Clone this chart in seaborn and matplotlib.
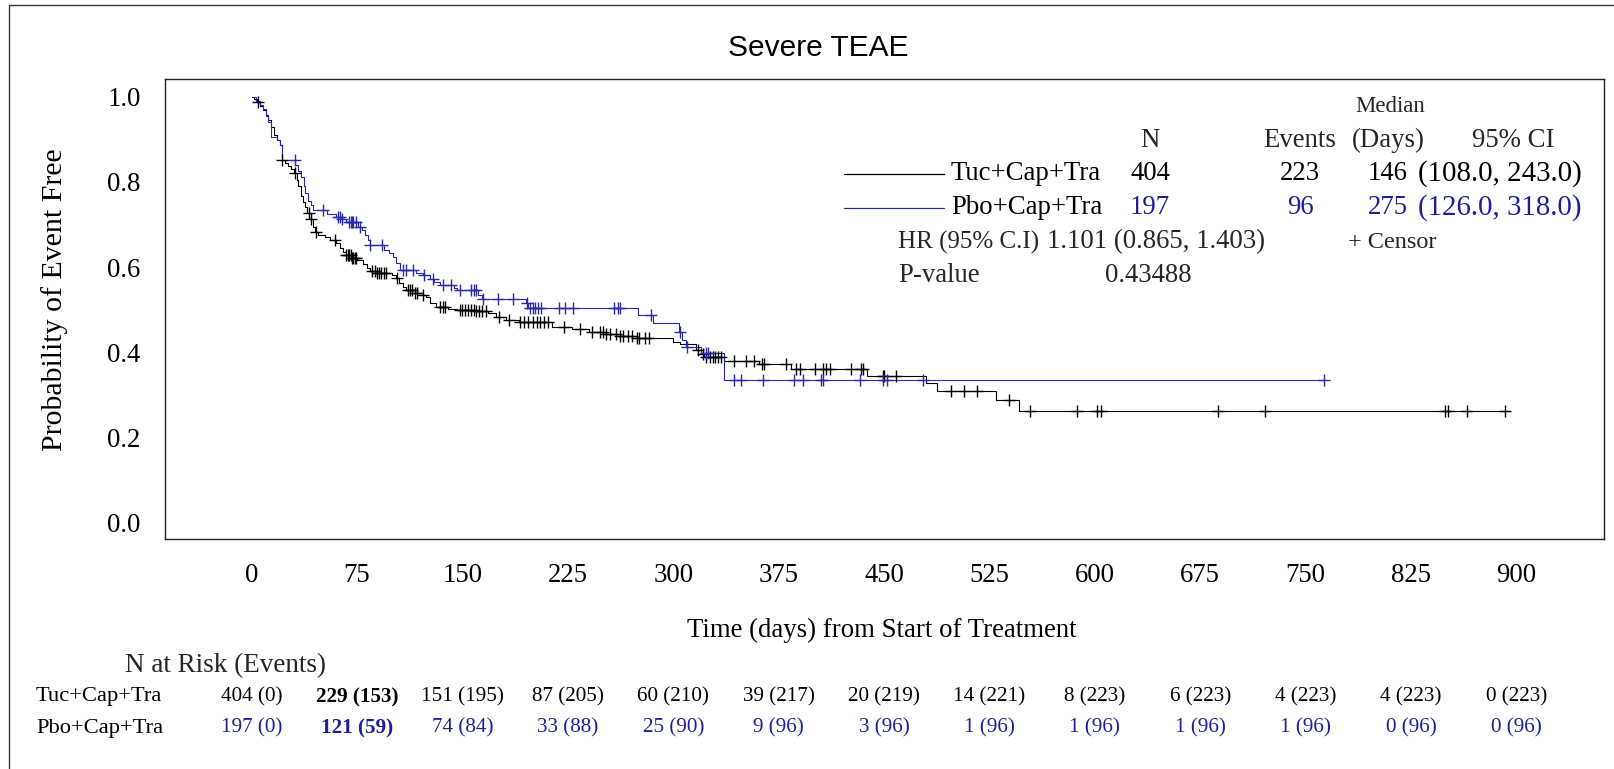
import numpy as np
import matplotlib
matplotlib.use("Agg")
import matplotlib.pyplot as plt
from matplotlib.lines import Line2D
from matplotlib.transforms import blended_transform_factory
import seaborn as sns
import pandas as pd

# ---------------- data ----------------
arm_names = ["Tuc+Cap+Tra", "Pbo+Cap+Tra"]

tuc_times = [0, 2, 4, 6, 8, 10, 12, 14, 16, 18, 20, 22, 24, 26, 28, 30, 32, 33, 35, 36.5, 38, 39.5,
             42, 43.5, 45, 47, 52, 56, 60, 63, 65, 67, 71, 75, 79, 82, 84, 88, 100, 103, 105, 108,
             110, 116, 122, 124, 127, 131, 140, 146, 160, 168, 174, 181, 190, 214, 228, 240, 252,
             262, 274, 300, 305, 316, 320, 322, 336, 361, 384, 438, 480, 488, 530, 546]
tuc_surv = [1.0, 0.995, 0.988, 0.978, 0.968, 0.958, 0.945, 0.93, 0.91, 0.898, 0.887, 0.851, 0.845,
            0.838, 0.83, 0.82, 0.805, 0.79, 0.768, 0.752, 0.74, 0.728, 0.712, 0.695, 0.683, 0.676,
            0.67, 0.664, 0.656, 0.645, 0.636, 0.628, 0.622, 0.616, 0.607, 0.598, 0.592, 0.587,
            0.582, 0.574, 0.562, 0.553, 0.546, 0.54, 0.535, 0.53, 0.515, 0.507, 0.502, 0.5, 0.497,
            0.492, 0.484, 0.477, 0.472, 0.46, 0.455, 0.448, 0.443, 0.438, 0.433, 0.425, 0.419,
            0.405, 0.396, 0.39, 0.38, 0.373, 0.361, 0.345, 0.327, 0.31, 0.288, 0.263]
tuc_end = 892
tuc_censor = [4.7, 22, 30.8, 41, 42.6, 45.5, 59.2, 67.5, 68.5, 69.5, 70.5, 71.5, 72.5, 73.5, 74.6,
              86, 87.5, 89, 90.5, 92, 94, 96, 103.5, 111, 112.5, 114, 116, 118, 122, 134, 136,
              137.5, 148, 150, 152, 154, 156, 158, 160, 162, 164, 167, 176, 183, 191, 194, 197,
              200, 203, 205, 208, 211, 222, 234, 242, 247.6, 250, 252, 255, 259.5, 262, 264, 268,
              271, 274, 276, 280, 283, 317.5, 321, 323, 326, 328, 330, 332, 334, 343.4, 351.7,
              357.6, 363, 364.5, 380, 387.6, 390, 400.6, 406.5, 408.9, 411.3, 426.7, 433.8, 435,
              449, 450.3, 458.5, 497.7, 507, 516.5, 539, 554, 587, 601.6, 604.5, 688, 721, 849,
              851, 864.7, 892]

pbo_times = [0, 3, 6, 8, 10, 12, 14, 18, 20, 22, 31, 33, 35.5, 37, 38, 40, 42, 44, 54, 60, 64, 67,
             76, 78.5, 81, 83, 84, 94, 98, 100.7, 103, 105.4, 117, 122, 127, 130, 133.8, 144, 146,
             161, 164, 195.5, 197, 274.8, 285.5, 304, 306.5, 309, 320, 336.5]
pbo_surv = [1.0, 0.99, 0.98, 0.97, 0.955, 0.94, 0.906, 0.898, 0.887, 0.851, 0.84, 0.826, 0.812,
            0.79, 0.773, 0.755, 0.745, 0.734, 0.725, 0.718, 0.712, 0.705, 0.695, 0.687, 0.675,
            0.664, 0.652, 0.64, 0.632, 0.624, 0.61, 0.593, 0.587, 0.581, 0.572, 0.565, 0.558,
            0.552, 0.546, 0.535, 0.525, 0.515, 0.505, 0.488, 0.468, 0.448, 0.429, 0.412, 0.398,
            0.335]
pbo_end = 763
pbo_censor = [30.8, 51, 61.6, 63, 64.5, 69, 70.5, 71.5, 72.5, 74, 77, 84.5, 92.7, 108, 110, 115,
              123, 129, 136, 142, 148, 156, 158, 160, 165, 175.6, 186.3, 196, 198, 200, 202, 204,
              206, 219, 223, 229, 258, 260.6, 261.8, 284, 305, 310, 323, 325, 343.6, 348.4, 363.7,
              386.3, 392.1, 405.2, 406.8, 432.9, 449, 451.8, 477.4, 763]

legend_N = ["404", "197"]
legend_events = ["223", "96"]
legend_median = ["146", "275"]
legend_ci = ["(108.0, 243.0)", "(126.0, 318.0)"]
hr_text = "1.101 (0.865, 1.403)"
p_value = "0.43488"

x_ticks = [0, 75, 150, 225, 300, 375, 450, 525, 600, 675, 750, 825, 900]
y_ticks = [0.0, 0.2, 0.4, 0.6, 0.8, 1.0]
risk_tuc = ["404 (0)", "229 (153)", "151 (195)", "87 (205)", "60 (210)", "39 (217)", "20 (219)",
            "14 (221)", "8 (223)", "6 (223)", "4 (223)", "4 (223)", "0 (223)"]
risk_pbo = ["197 (0)", "121 (59)", "74 (84)", "33 (88)", "25 (90)", "9 (96)", "3 (96)", "1 (96)",
            "1 (96)", "1 (96)", "1 (96)", "0 (96)", "0 (96)"]
bold_col = 1

# ---------------- style ----------------
W, H = 1614, 769
BLACK = "#000000"
BLUE = "#1f1f9c"
LINEBLUE = "#2a2aa8"
sns.set_theme(style="white")
plt.rcParams["font.family"] = ["Liberation Serif", "DejaVu Serif"]
FS = 19.3
FS_RISK = 15.2

fig = plt.figure(figsize=(W / 100, H / 100), dpi=100)
ax = fig.add_axes([165 / W, 1 - 539 / H, (1604 - 165) / W, (539 - 79) / H])


def fx(px):
    return px / W


def fy(py):
    return 1 - py / H


def curve_df(times, surv, end):
    t = list(times) + [end]
    s = list(surv) + [surv[-1]]
    return pd.DataFrame({"t": t, "s": s})


def censor_df(times, surv, cens):
    times = np.asarray(times, float)
    surv = np.asarray(surv, float)
    idx = np.searchsorted(times, np.asarray(cens, float), side="right") - 1
    return pd.DataFrame({"t": cens, "s": surv[idx]})


for times, surv, end, cens, col in [
    (tuc_times, tuc_surv, tuc_end, tuc_censor, BLACK),
    (pbo_times, pbo_surv, pbo_end, pbo_censor, LINEBLUE),
]:
    sns.lineplot(data=curve_df(times, surv, end), x="t", y="s", ax=ax, color=col,
                 linewidth=0.8, drawstyle="steps-post", estimator=None, sort=False)
    sns.scatterplot(data=censor_df(times, surv, cens), x="t", y="s", ax=ax, color=col,
                    marker="+", s=85, linewidth=1.0, zorder=3)

ax.set_xlim(-61.6, 962.3)
ax.set_ylim(-0.038, 1.0415)
ax.set_xticks(x_ticks)
ax.set_xticklabels([str(v) for v in x_ticks])
ax.set_yticks(y_ticks)
ax.set_yticklabels([f"{v:.1f}" for v in y_ticks])
ax.tick_params(axis="both", direction="out", length=9.5, width=0.9, color="#444444",
               labelsize=FS, labelcolor=BLACK)
ax.tick_params(axis="x", pad=8)
ax.tick_params(axis="y", pad=8)
for sp in ax.spines.values():
    sp.set_visible(True)
    sp.set_color("#222222")
    sp.set_linewidth(1.0)
ax.grid(False)
ax.set_xlabel("")
ax.set_ylabel("")

# axis labels
fig.text(fx(55), fy(300), "Probability of Event Free", rotation=90, ha="center", va="center",
         fontsize=21.5, color=BLACK)
fig.text(fx(882), fy(630), "Time (days) from Start of Treatment", ha="center", va="center",
         fontsize=FS, color=BLACK)

# title
fig.text(fx(818), fy(48), "Severe TEAE", ha="center", va="center", fontsize=21.5,
         family="Liberation Sans", color=BLACK)

# legend table
rows_y = [106, 140.5, 174, 208, 242, 276]
fig.text(fx(1390), fy(rows_y[0]), "Median", ha="center", va="center", fontsize=16.5)
fig.text(fx(1150), fy(rows_y[1]), "N", ha="center", va="center", fontsize=FS)
fig.text(fx(1300), fy(rows_y[1]), "Events", ha="center", va="center", fontsize=FS)
fig.text(fx(1388), fy(rows_y[1]), "(Days)", ha="center", va="center", fontsize=FS)
fig.text(fx(1513), fy(rows_y[1]), "95% CI", ha="center", va="center", fontsize=FS)
for i, (name, col, lcol) in enumerate(zip(arm_names, [BLACK, BLUE], [BLACK, LINEBLUE])):
    y = rows_y[2 + i]
    fig.add_artist(Line2D([fx(844), fx(944)], [fy(y), fy(y)], color=lcol, linewidth=0.9,
                          transform=fig.transFigure))
    fig.text(fx(951), fy(y), name, ha="left", va="center", fontsize=FS, color=BLACK)
    fig.text(fx(1150), fy(y), legend_N[i], ha="center", va="center", fontsize=FS, color=col)
    fig.text(fx(1300), fy(y), legend_events[i], ha="center", va="center", fontsize=FS, color=col)
    fig.text(fx(1388), fy(y), legend_median[i], ha="center", va="center", fontsize=FS, color=col)
    fig.text(fx(1500), fy(y), legend_ci[i], ha="center", va="center", fontsize=20.8, color=col)
fig.text(fx(898), fy(rows_y[4]), "HR (95% C.I)", ha="left", va="center", fontsize=18)
fig.text(fx(1047), fy(rows_y[4]), hr_text, ha="left", va="center", fontsize=FS)
fig.text(fx(1348), fy(rows_y[4]), "+ Censor", ha="left", va="center", fontsize=17.5)
fig.text(fx(898), fy(rows_y[5]), "P-value", ha="left", va="center", fontsize=FS)
fig.text(fx(1105), fy(rows_y[5]), p_value, ha="left", va="center", fontsize=FS)

# at-risk table
fig.text(fx(125), fy(666), "N at Risk (Events)", ha="left", va="center", fontsize=19.5)
trans = blended_transform_factory(ax.transData, fig.transFigure)
for name, vals, col, ypx in [(arm_names[0], risk_tuc, BLACK, 697), (arm_names[1], risk_pbo, BLUE, 728)]:
    fig.text(fx(36), fy(ypx), name, ha="left", va="center", fontsize=16.2, color=BLACK)
    for j, (xv, txt) in enumerate(zip(x_ticks, vals)):
        ax.text(xv, fy(ypx), txt, transform=trans, ha="center", va="center",
                fontsize=FS_RISK, color=col,
                fontweight=("bold" if j == bold_col else "normal"), clip_on=False)

# outer frame (left and top)
fig.add_artist(Line2D([fx(9), fx(9)], [fy(5), 0], color="#333333", linewidth=1.0,
                      transform=fig.transFigure))
fig.add_artist(Line2D([fx(9), 1], [fy(5), fy(5)], color="#333333", linewidth=1.0,
                      transform=fig.transFigure))

fig.savefig("out.png", dpi=100)
